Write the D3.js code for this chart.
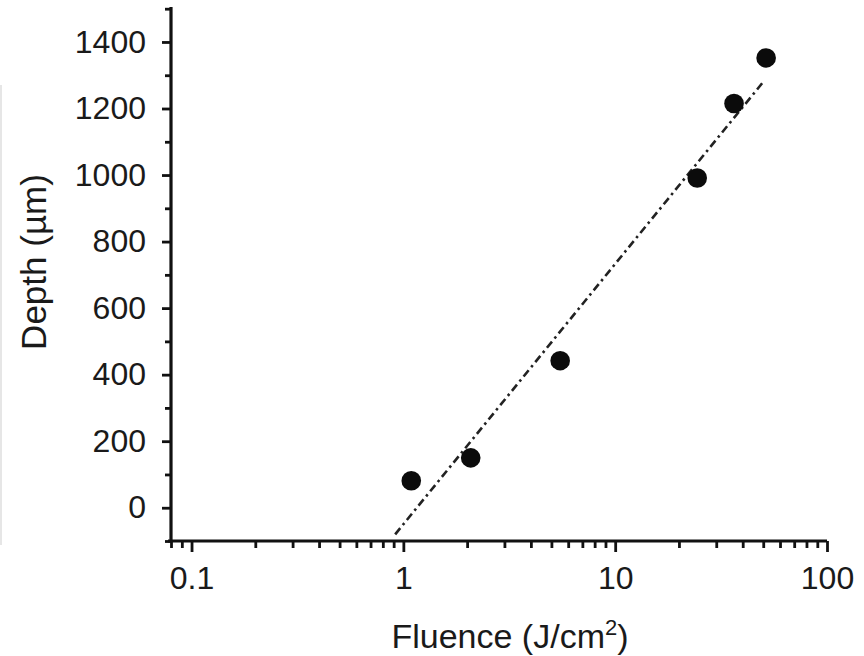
<!DOCTYPE html>
<html>
<head>
<meta charset="utf-8" />
<title>Depth vs Fluence</title>
<script src="https://d3js.org/d3.v7.min.js"></script>
<style>
  body { margin: 0; background: #fff; }
  svg { display: block; font-family: "Liberation Sans", Arial, sans-serif; }
</style>
</head>
<body>
<svg id="chart" width="864" height="656"></svg>
<script>
// data
var fluence = [1.09, 2.08, 5.5, 24.4, 36.4, 51.6];
var depth = [81, 150, 442, 991, 1215, 1352];

// dash-dot fit line, two end points
var fitFluence = [0.915, 50];
var fitDepth = [-80, 1280];

var xTickValues = [0.1, 1, 10, 100];
var xTickLabels = ["0.1", "1", "10", "100"];
var yTickValues = [0, 200, 400, 600, 800, 1000, 1200, 1400];

var svg = d3.select("#chart");

var x = d3.scaleLog().domain([0.08, 100]).range([171, 827]);
var y = d3.scaleLinear().domain([-100, 1500]).range([541, 8.7]);

// faint edge line from the source crop
svg.append("line")
    .attr("x1", 1).attr("x2", 1).attr("y1", 85).attr("y2", 545)
    .attr("stroke", "#e6e6e6").attr("stroke-width", 2);

// minor ticks
var xMinor = [];
[0.01, 0.1, 1, 10].forEach(function (p) {
    for (var k = 1; k <= 9; k++) {
        var v = +(p * k).toPrecision(3);
        if (v >= 0.08 && v <= 100 && xTickValues.indexOf(v) < 0) xMinor.push(v);
    }
});
var yMinor = d3.range(-100, 1501, 100).filter(function (v) { return yTickValues.indexOf(v) < 0; });

var gx = svg.append("g").attr("transform", "translate(0,541)");
gx.call(d3.axisBottom(x).tickValues(xMinor).tickSize(7).tickFormat(""));
gx.append("g").call(d3.axisBottom(x).tickValues(xTickValues).tickSize(11)
    .tickFormat(function (d, i) { return xTickLabels[i]; }).tickPadding(14))
  .call(function (g) { g.select(".domain").remove(); });

var gy = svg.append("g").attr("transform", "translate(171,0)");
gy.call(d3.axisLeft(y).tickValues(yMinor).tickSize(6).tickFormat(""));
gy.append("g").call(d3.axisLeft(y).tickValues(yTickValues).tickSize(9).tickPadding(16)
    .tickFormat(d3.format("d")))
  .call(function (g) { g.select(".domain").remove(); });

gx.select(".domain").attr("d", "M168,0H827");
gy.select(".domain").attr("d", "M0,7V542");
svg.selectAll(".domain").attr("stroke", "#111").attr("stroke-width", 3.2);
svg.selectAll(".tick line").attr("stroke", "#111").attr("stroke-width", 2.8);
svg.selectAll(".tick text").attr("fill", "#1a1a1a").style("font-size", "32px");

// fit line
svg.append("path")
    .datum(d3.zip(fitFluence, fitDepth))
    .attr("fill", "none")
    .attr("stroke", "#222")
    .attr("stroke-width", 2.6)
    .attr("stroke-dasharray", "8,4,2.5,4")
    .attr("d", d3.line().x(function (d) { return x(d[0]); }).y(function (d) { return y(d[1]); }));

// points
svg.append("g").selectAll("circle")
    .data(d3.zip(fluence, depth))
    .enter().append("circle")
    .attr("cx", function (d) { return x(d[0]); })
    .attr("cy", function (d) { return y(d[1]); })
    .attr("r", 9.8)
    .attr("fill", "#0b0b0b");

// axis titles
var xt = svg.append("text")
    .attr("x", 510).attr("y", 648)
    .attr("text-anchor", "middle")
    .attr("fill", "#1a1a1a")
    .style("font-size", "34px")
    .text("Fluence (J/cm");
xt.append("tspan").attr("dy", -13).style("font-size", "22px").text("2");
xt.append("tspan").attr("dy", 13).text(")");

svg.append("text")
    .attr("transform", "translate(46,262) rotate(-90)")
    .attr("text-anchor", "middle")
    .attr("fill", "#1a1a1a")
    .style("font-size", "35px")
    .text("Depth (\u00b5m)");
</script>
</body>
</html>
